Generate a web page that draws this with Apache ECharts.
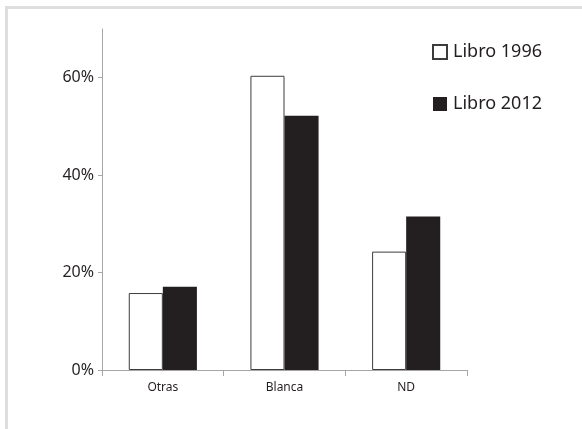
<!DOCTYPE html>
<html>
<head>
<meta charset="utf-8">
<script src="https://cdn.jsdelivr.net/npm/echarts@6/dist/echarts.min.js"></script>
<style>
  html, body { margin: 0; padding: 0; background: #fff; overflow: hidden; width: 582px; height: 429px; }
  #frame {
    position: absolute; left: 5px; top: 6px; width: 577px; height: 423px;
    border-top: 3px solid #dedede; border-left: 3px solid #dedede;
    box-sizing: border-box;
  }
  #chart { position: absolute; left: 0; top: 0; width: 582px; height: 429px; }
</style>
</head>
<body>
<div id="frame"></div>
<div id="chart"></div>
<script>
// Share of each category, in percent
const categories = ['Otras', 'Blanca', 'ND'];
const libro1996 = [15.8, 60.4, 24.3];
const libro2012 = [17.1, 52.2, 31.5];
const yTicks = [0, 20, 40, 60];

const ink = '#231f20';
const font = 'Noto Sans';

const chart = echarts.init(document.getElementById('chart'));
chart.setOption({
  animation: false,
  textStyle: { fontFamily: font, color: ink },
  grid: { left: 102, top: 29, right: 115, bottom: 59 },
  legend: {
    orient: 'vertical',
    left: 432, top: 43, padding: 0,
    itemWidth: 14, itemHeight: 14, itemGap: 34,
    icon: 'rect',
    textStyle: { fontFamily: font, fontSize: 18, color: ink, padding: [2, 0, 0, 1] },
    data: ['Libro 1996', 'Libro 2012']
  },
  xAxis: {
    type: 'category',
    data: categories,
    axisLine: { lineStyle: { color: '#a6a6a6', width: 1 } },
    axisTick: { show: true, length: 6, lineStyle: { color: '#a6a6a6' } },
    axisLabel: { fontFamily: font, fontSize: 12, color: ink, margin: 12 }
  },
  yAxis: {
    type: 'value',
    min: 0, max: 70,
    splitLine: { show: false },
    axisLine: { show: true, lineStyle: { color: '#a6a6a6', width: 1 } },
    axisTick: { show: true, length: 4, customValues: yTicks, lineStyle: { color: '#a6a6a6' } },
    axisLabel: {
      fontFamily: font, fontSize: 16, color: ink, margin: 8,
      customValues: yTicks,
      formatter: v => v + '%'
    }
  },
  series: [
    {
      name: 'Libro 1996', type: 'bar', data: libro1996,
      barGap: '0%', barCategoryGap: '44%',
      itemStyle: { color: '#ffffff', borderColor: '#3c3c3c', borderWidth: 1 }
    },
    {
      name: 'Libro 2012', type: 'bar', data: libro2012,
      barGap: '0%', barCategoryGap: '44%',
      itemStyle: { color: ink }
    }
  ]
});
</script>
</body>
</html>
